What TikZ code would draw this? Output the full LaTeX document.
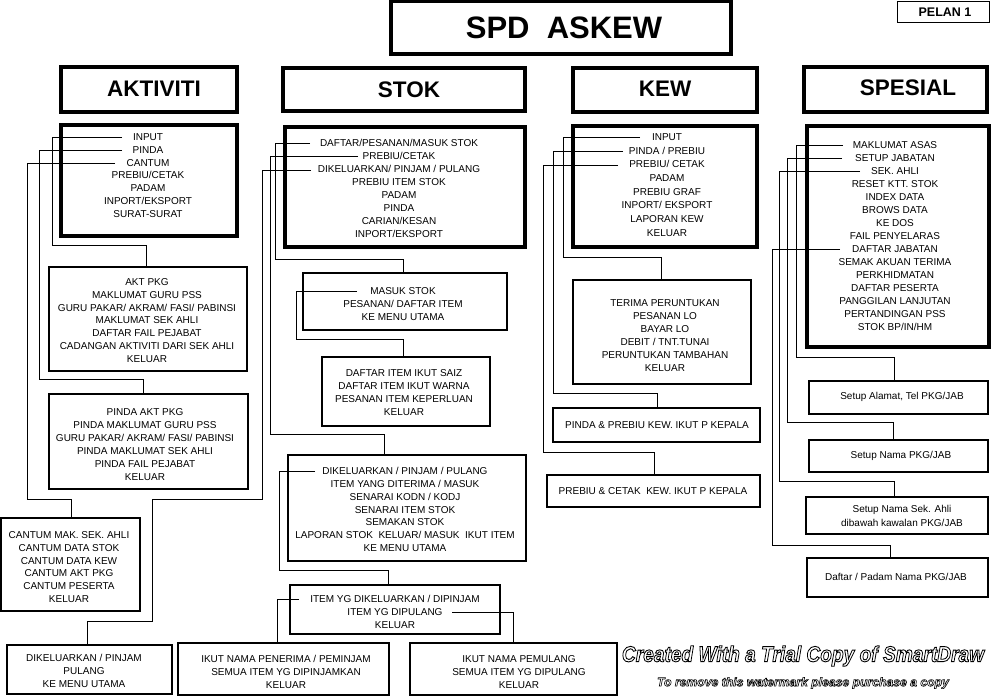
\documentclass[tikz,border=0pt]{standalone}
\usepackage{fontspec}
\setmainfont{Liberation Sans}
\newcommand{\wmoutline}[2]{\special{pdf:literal 1 Tr #1 w}#2\special{pdf:literal 0 Tr}}
\begin{document}
\begin{tikzpicture}[x=1pt,y=-1pt,
  bx/.style={draw, inner sep=0pt, outer sep=0pt},
  hdr/.style={bx, line width=3.2pt},
  mbox/.style={bx, line width=4.5pt},
  sbox/.style={bx, line width=2.6pt},
  thinbox/.style={bx, line width=1pt},
  conn/.style={line width=1pt},
  txt/.style={font=\fontsize{10}{13}\selectfont, align=center, inner sep=0pt},
  htxt/.style={font=\fontsize{22.5}{24}\selectfont\bfseries, inner sep=0pt},
  wmA/.style={font=\fontsize{22}{24}\selectfont\bfseries\itshape, inner sep=0pt},
  wmB/.style={font=\fontsize{12.2}{13}\selectfont\bfseries\itshape, inner sep=0pt}
]
\useasboundingbox (0,0) rectangle (994,697);
\fill[white] (0,0) rectangle (994,697);

% ---------- headers ----------
\node[hdr, line width=3.5pt, minimum width=340pt, minimum height=53pt] (title) at (561,27.5) {};
\node[font=\fontsize{31}{32}\selectfont\bfseries, inner sep=0pt] (titleT) at (564,28) {SPD\ \ ASKEW};
\node[thinbox, minimum width=92pt, minimum height=21pt] (pelan) at (943,11.5) {};
\node[font=\fontsize{12.5}{13}\selectfont\bfseries, inner sep=0pt] (pelanT) at (945,12) {PELAN 1};

\node[hdr, minimum width=176pt, minimum height=45pt] (aktH) at (149,89.5) {};
\node[htxt] (aktHT) at (154,89) {AKTIVITI};
\node[hdr, minimum width=242pt, minimum height=43pt] (stokH) at (404,89.5) {};
\node[htxt] (stokHT) at (409,90) {STOK};
\node[hdr, minimum width=184pt, minimum height=44pt] (kewH) at (665,90) {};
\node[htxt] (kewHT) at (665,89) {KEW};
\node[hdr, minimum width=183pt, minimum height=45pt] (spesH) at (895.5,89.5) {};
\node[htxt] (spesHT) at (908,88) {SPESIAL};

% ---------- AKTIVITI column ----------
\node[mbox, minimum width=176pt, minimum height=111pt] (aktM) at (149,180.5) {};
\node[txt, font=\fontsize{10}{12.85}\selectfont] (aktMT) at (148,175.5) {INPUT\\PINDA\\CANTUM\\PREBIU/CETAK\\PADAM\\INPORT/EKSPORT\\SURAT-SURAT};

\node[sbox, minimum width=198pt, minimum height=104pt] (aktPkg) at (148,319) {};
\node[txt, font=\fontsize{10}{12.8}\selectfont] (aktPkgT) at (147,320.5) {AKT PKG\\MAKLUMAT GURU PSS\\GURU PAKAR/ AKRAM/ FASI/ PABINSI\\MAKLUMAT SEK AHLI\\DAFTAR FAIL PEJABAT\\CADANGAN AKTIVITI DARI SEK AHLI\\KELUAR};

\node[sbox, minimum width=199pt, minimum height=95pt] (pindaB) at (148.5,441.5) {};
\node[txt] (pindaBT) at (145,444.5) {PINDA AKT PKG\\PINDA MAKLUMAT GURU PSS\\GURU PAKAR/ AKRAM/ FASI/ PABINSI\\PINDA MAKLUMAT SEK AHLI\\PINDA FAIL PEJABAT\\KELUAR};

\node[sbox, minimum width=139pt, minimum height=93pt] (cantumB) at (70.5,564.5) {};
\node[txt, font=\fontsize{10}{12.8}\selectfont] (cantumBT) at (69,567) {CANTUM MAK. SEK. AHLI\\CANTUM DATA STOK\\CANTUM DATA KEW\\CANTUM AKT PKG\\CANTUM PESERTA\\KELUAR};

\node[sbox, minimum width=165pt, minimum height=49pt] (blDik) at (89.5,669.5) {};
\node[txt] (blDikT) at (84,671) {DIKELUARKAN / PINJAM\\PULANG\\KE MENU UTAMA};

% ---------- STOK column ----------
\node[mbox, minimum width=240pt, minimum height=120pt] (stokM) at (405,187) {};
\node[txt] (stokMT) at (399,188.5) {DAFTAR/PESANAN/MASUK STOK\\PREBIU/CETAK\\DIKELUARKAN/ PINJAM / PULANG\\PREBIU ITEM STOK\\PADAM\\PINDA\\CARIAN/KESAN\\INPORT/EKSPORT};

\node[sbox, minimum width=204pt, minimum height=57pt] (masukB) at (405,301.5) {};
\node[txt] (masukBT) at (403,304) {MASUK STOK\\PESANAN/ DAFTAR ITEM\\KE MENU UTAMA};

\node[sbox, minimum width=168pt, minimum height=69pt] (daftarB) at (406,391.5) {};
\node[txt] (daftarBT) at (404,392.5) {DAFTAR ITEM IKUT SAIZ\\DAFTAR ITEM IKUT WARNA\\PESANAN ITEM KEPERLUAN\\KELUAR};

\node[sbox, minimum width=238pt, minimum height=106pt] (stokDik) at (407,508) {};
\node[txt, font=\fontsize{10}{12.9}\selectfont] (stokDikT) at (405,509.5) {DIKELUARKAN / PINJAM / PULANG\\ITEM YANG DITERIMA / MASUK\\SENARAI KODN / KODJ\\SENARAI ITEM STOK\\SEMAKAN STOK\\LAPORAN STOK \ KELUAR/ MASUK \ IKUT ITEM\\KE MENU UTAMA};

\node[sbox, minimum width=210pt, minimum height=49pt] (itemYg) at (395,609.5) {};
\node[txt] (itemYgT) at (395,612) {ITEM YG DIKELUARKAN / DIPINJAM\\ITEM YG DIPULANG\\KELUAR};

\node[sbox, minimum width=211pt, minimum height=52pt] (ikutPen) at (283.5,669) {};
\node[txt] (ikutPenT) at (286,672) {IKUT NAMA PENERIMA / PEMINJAM\\SEMUA ITEM YG DIPINJAMKAN\\KELUAR};

\node[sbox, minimum width=207pt, minimum height=52pt] (pemulang) at (513.5,669) {};
\node[txt] (pemulangT) at (519,672) {IKUT NAMA PEMULANG\\SEMUA ITEM YG DIPULANG\\KELUAR};

% ---------- KEW column ----------
\node[mbox, minimum width=184pt, minimum height=121pt] (kewM) at (665,186.5) {};
\node[txt, font=\fontsize{10}{13.7}\selectfont] (kewMT) at (667,185) {INPUT\\PINDA / PREBIU\\PREBIU/ CETAK\\PADAM\\PREBIU GRAF\\INPORT/ EKSPORT\\LAPORAN KEW\\KELUAR};

\node[sbox, minimum width=178pt, minimum height=104pt] (terimaB) at (662,332) {};
\node[txt] (terimaBT) at (665,335.5) {TERIMA PERUNTUKAN\\PESANAN LO\\BAYAR LO\\DEBIT / TNT.TUNAI\\PERUNTUKAN TAMBAHAN\\KELUAR};

\node[sbox, minimum width=207pt, minimum height=34pt] (ppB) at (656.5,425) {};
\node[txt] (ppBT) at (657,425) {PINDA \& PREBIU KEW. IKUT P KEPALA};

\node[sbox, minimum width=213pt, minimum height=32pt] (pcB) at (653.5,491) {};
\node[txt] (pcBT) at (653,491) {PREBIU \& CETAK \ KEW. IKUT P KEPALA};

% ---------- SPESIAL column ----------
\node[mbox, minimum width=182pt, minimum height=221pt] (spesM) at (898,236.5) {};
\node[txt] (spesMT) at (895,236) {MAKLUMAT ASAS\\SETUP JABATAN\\SEK. AHLI\\RESET KTT. STOK\\INDEX DATA\\BROWS DATA\\KE DOS\\FAIL PENYELARAS\\DAFTAR JABATAN\\SEMAK AKUAN TERIMA\\PERKHIDMATAN\\DAFTAR PESERTA\\PANGGILAN LANJUTAN\\PERTANDINGAN PSS\\STOK BP/IN/HM};

\node[sbox, minimum width=179pt, minimum height=33pt] (alamatB) at (898.5,397.5) {};
\node[txt] (alamatBT) at (902,397) {Setup Alamat, Tel PKG/JAB};

\node[sbox, minimum width=179pt, minimum height=32pt] (namaB) at (898.5,456) {};
\node[txt] (namaBT) at (901,456) {Setup Nama PKG/JAB};

\node[sbox, minimum width=182pt, minimum height=37pt] (sekB) at (897,515.5) {};
\node[txt, font=\fontsize{10}{14}\selectfont] (sekBT) at (902,516) {Setup Nama Sek. Ahli\\dibawah kawalan PKG/JAB};

\node[sbox, minimum width=181pt, minimum height=39pt] (padamB) at (897.5,577.5) {};
\node[txt] (padamBT) at (896,577) {Daftar / Padam Nama PKG/JAB};

% ---------- connector start points ----------
\coordinate (a1) at (122,137);
\coordinate (a2) at (122,150);
\coordinate (a3) at (115,163);
\coordinate (s1) at (310,143);
\coordinate (s2) at (358,156);
\coordinate (s3) at (311,170);
\coordinate (m1) at (357,291);
\coordinate (d1) at (315,471);
\coordinate (i1) at (299,599);
\coordinate (i2) at (452,612);
\coordinate (k1) at (640,137);
\coordinate (k2) at (623,151);
\coordinate (k3) at (618,165);
\coordinate (p1) at (843,145);
\coordinate (p2) at (842,158);
\coordinate (p3) at (860,171);
\coordinate (p4) at (840,249);

% ---------- connectors ----------
\draw[conn] (a1) -- (52,137) -- (52,245) -- (146,245) -- (aktPkg.north -| 146,0);
\draw[conn] (a2) -- (39,150) -- (39,379) -- (143,379) -- (pindaB.north -| 143,0);
\draw[conn] (a3) -- (27,163) -- (27,499) -- (71,499) -- (cantumB.north -| 71,0);

\draw[conn] (s1) -- (275,143) -- (275,259) -- (403,259) -- (masukB.north -| 403,0);
\draw[conn] (s2) -- (270,156) -- (270,434) -- (384,434) -- (stokDik.north -| 384,0);
\draw[conn] (s3) -- (262,170) -- (262,499) -- (152,499) -- (152,621) -- (87,621) -- (blDik.north -| 87,0);
\draw[conn] (m1) -- (296,291) -- (296,339) -- (403,339) -- (daftarB.north -| 403,0);
\draw[conn] (d1) -- (279,471) -- (279,570) -- (388,570) -- (itemYg.north -| 388,0);
\draw[conn] (i1) -- (277,599) -- (ikutPen.north -| 277,0);
\draw[conn] (i2) -- (513,612) -- (pemulang.north -| 513,0);

\draw[conn] (k1) -- (563,137) -- (563,257) -- (661,257) -- (terimaB.north -| 661,0);
\draw[conn] (k2) -- (553,151) -- (553,393) -- (657,393) -- (ppB.north -| 657,0);
\draw[conn] (k3) -- (543,165) -- (543,452) -- (654,452) -- (pcB.north -| 654,0);

\draw[conn] (p1) -- (796,145) -- (796,357) -- (894,357) -- (alamatB.north -| 894,0);
\draw[conn] (p2) -- (787,158) -- (787,422) -- (893,422) -- (namaB.north -| 893,0);
\draw[conn] (p3) -- (779,171) -- (779,481) -- (894,481) -- (sekB.north -| 894,0);
\draw[conn] (p4) -- (772,249) -- (772,545) -- (890,545) -- (padamB.north -| 890,0);

% ---------- watermark (outlined text) ----------
\node[wmA] (wmA) at (803,656) {\scalebox{0.87}[1]{\wmoutline{0.9}{Created With a Trial Copy of SmartDraw}}};
\node[wmB] (wmB) at (803,683) {\wmoutline{0.6}{To remove this watermark please purchase a copy}};
\end{tikzpicture}
\end{document}
